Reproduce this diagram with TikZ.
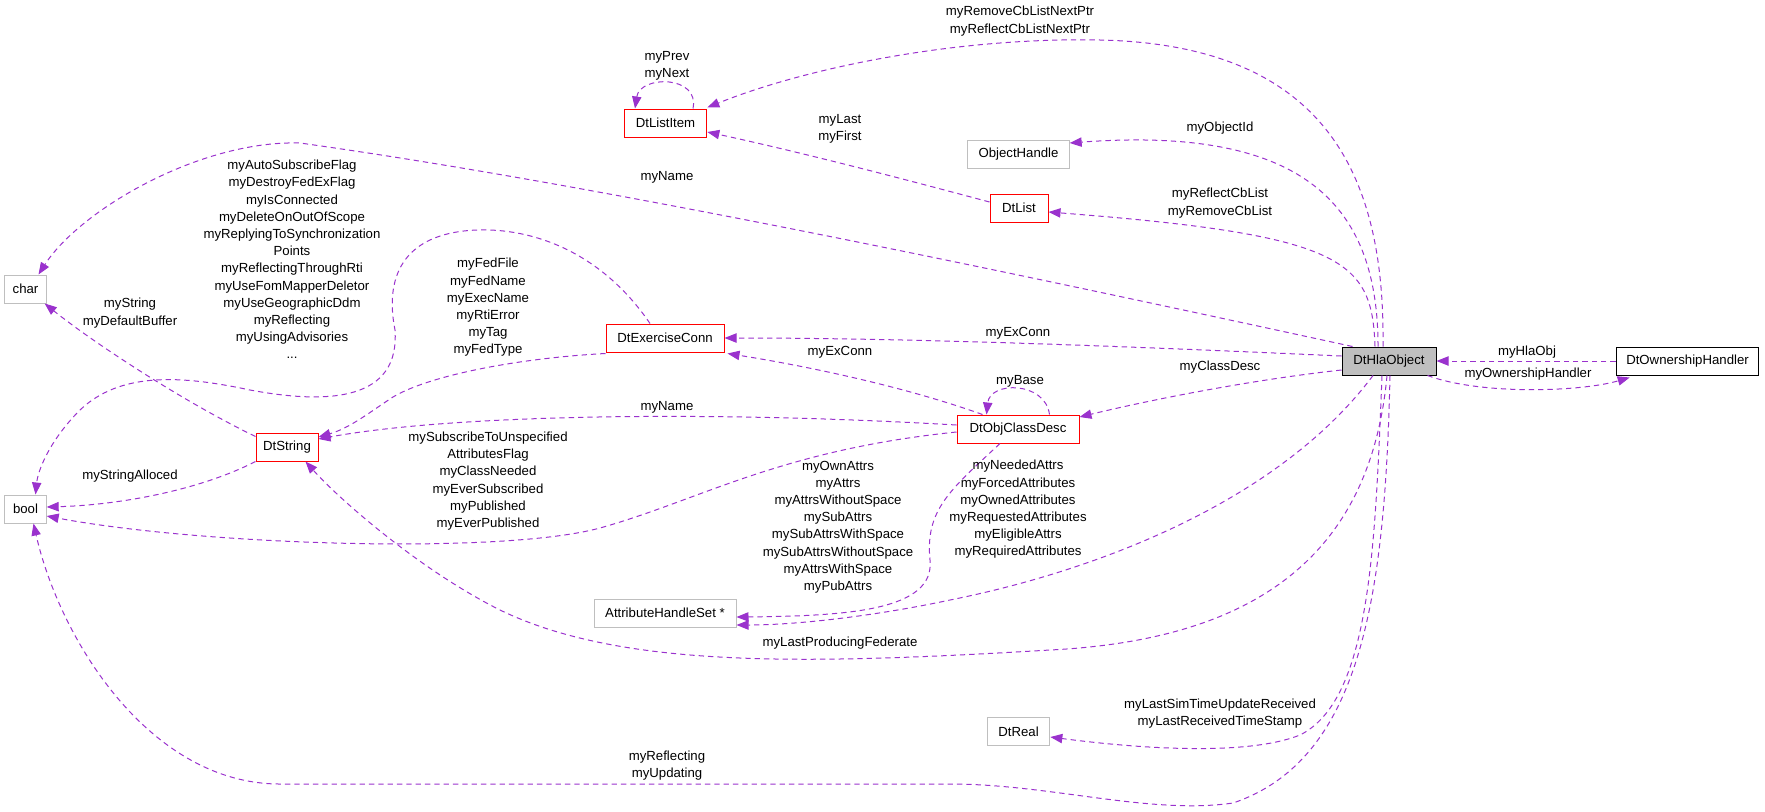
\documentclass[tikz,border=0pt]{standalone}
\usepackage{fontspec}
\setmainfont{Liberation Sans}
\usetikzlibrary{arrows.meta,calc}
\definecolor{edgec}{HTML}{9A32CD}
\definecolor{grayb}{HTML}{BFBFBF}
\begin{document}
\begin{tikzpicture}[x=0.75pt,y=-0.75pt,
  every node/.style={font=\fontsize{9.9}{12.9}\selectfont},
  box/.style={draw,line width=0.75pt,minimum height=21pt,inner sep=0pt,anchor=center},
  red/.style={box,draw=red},
  grey/.style={box,draw=grayb},
  lbl/.style={align=center,inner sep=0pt},
  edge/.style={draw=edgec,line width=0.75pt,dash pattern=on 4pt off 3pt,-{Triangle[length=9pt,width=7pt,fill=edgec]}}]
\useasboundingbox (0,0) rectangle (1765,811);
% nodes
\node[box,fill=grayb,minimum width=70.5pt] (hla) at (1389,361) {DtHlaObject};
\node[box,minimum width=107pt] (own) at (1687.5,361) {DtOwnershipHandler};
\node[red,minimum width=62pt] (li) at (665.5,123) {DtListItem};
\node[grey,minimum width=76pt] (oh) at (1018.5,154) {ObjectHandle};
\node[red,minimum width=43.5pt] (list) at (1019,208) {DtList};
\node[grey,minimum width=31pt] (char) at (25.5,289) {char};
\node[grey,minimum width=31pt] (bool) at (25.5,509) {bool};
\node[red,minimum width=46.5pt] (str) at (287,447) {DtString};
\node[red,minimum width=88.5pt] (ex) at (665,338) {DtExerciseConn};
\node[red,minimum width=91.5pt] (ocd) at (1018,429) {DtObjClassDesc};
\node[grey,minimum width=106.5pt] (ahs) at (665,613) {AttributeHandleSet *};
\node[grey,minimum width=47pt] (real) at (1018.5,731.5) {DtReal};
% edges
\draw[edge] ($(hla.north)+(-6,0)$) .. controls (1385,180) and (1330,45) .. (1100,40) .. controls (950,37) and (800,70) .. ($(li.north east)+(0,-1)$);
\draw[edge] ($(li.north)+(27.5,0)$) .. controls (700,75) and (640,75) .. ($(li.north)+(-30.5,0)$);
\draw[edge] ($(list.west)+(0,-6)$) .. controls (900,178) and (800,152) .. ($(li.east)+(0,9)$);
\draw[edge] ($(hla.north)+(-11,0)$) .. controls (1378,210) and (1310,125) .. ($(oh.east)+(0,-11)$);
\draw[edge] ($(hla.north)+(-14,0)$) .. controls (1372,260) and (1345,235) .. ($(list.east)+(0,4)$);
\draw[edge] ($(hla.north west)+(11,0)$) .. controls (1000,270) and (600,185) .. (300,143) .. controls (200,140) and (80,210) .. ($(char.north)+(13,0)$);
\draw[edge] ($(hla.west)+(0,-5)$) .. controls (1100,345) and (900,338) .. (ex.east);
\draw[edge] ($(hla.west)+(0,9)$) .. controls (1250,380) and (1150,400) .. ($(ocd.east)+(0,-12)$);
\draw[edge] ($(hla.south)+(-16,0)$) .. controls (1280,500) and (1100,570) .. (950,600) .. controls (880,615) and (800,625) .. ($(ahs.east)+(0,12)$);
\draw[edge] ($(hla.south)+(-2,0)$) .. controls (1370,560) and (1250,640) .. (1050,650) .. controls (800,665) and (620,668) .. (500,610) .. controls (420,570) and (340,500) .. ($(str.south east)+(-13,0)$);
\draw[edge] ($(hla.south)+(-7,0)$) .. controls (1375,550) and (1370,700) .. (1300,735) .. controls (1250,755) and (1150,750) .. ($(real.east)+(0,5.5)$);
\draw[edge] ($(hla.south)+(1,0)$) .. controls (1385,600) and (1360,760) .. (1233,803) .. controls (1150,815) and (1050,784) .. (950,784) -- (280,784) .. controls (150,784) and (60,640) .. ($(bool.south)+(8,0)$);
\draw[edge] ($(hla.south east)+(-9,0)$) .. controls (1480,395) and (1580,392) .. ($(own.south west)+(14,2)$);
\draw[edge] (own.west) -- (hla.east);
\draw[edge] ($(ocd.north west)+(93,0)$) .. controls (1045,381) and (990,381) .. ($(ocd.north west)+(30,0)$);
\draw[edge] ($(ocd.north west)+(26,0)$) .. controls (900,385) and (800,365) .. ($(ex.south east)+(3,1)$);
\draw[edge] ($(ocd.west)+(0,-4)$) .. controls (700,410) and (450,415) .. ($(str.east)+(0,-8)$);
\draw[edge] ($(ocd.west)+(0,3)$) .. controls (780,450) and (700,500) .. (600,528) .. controls (500,555) and (200,545) .. ($(bool.east)+(0,7)$);
\draw[edge] ($(ocd.south)+(-18,0)$) .. controls (950,490) and (925,510) .. (930,560) .. controls (935,610) and (850,616) .. ($(ahs.east)+(0,4)$);
\draw[edge] ($(ex.south west)+(0,1)$) .. controls (520,358) and (430,375) .. (393,397) .. controls (370,412) and (350,428) .. ($(str.east)+(0,-10)$);
\draw[edge] ($(ex.north)+(-15,0)$) .. controls (600,250) and (530,228) .. (477,230) .. controls (400,233) and (385,280) .. (395,330) .. controls (400,400) and (330,405) .. (250,390) .. controls (180,375) and (120,372) .. (80,410) .. controls (50,440) and (38,470) .. ($(bool.north)+(10,0)$);
\draw[edge] ($(str.north west)+(0,4)$) .. controls (180,400) and (90,340) .. ($(char.south east)+(-2,0)$);
\draw[edge] ($(str.south west)+(0,0)$) .. controls (200,490) and (120,505) .. ($(bool.east)+(0,-2)$);
% labels
\node[lbl] (l1) at (1020,21) {myRemoveCbListNextPtr\\myReflectCbListNextPtr};
\node[lbl] (l2) at (667,65.5) {myPrev\\myNext};
\node[lbl] (l3) at (840,128.5) {myLast\\myFirst};
\node[lbl] (l4) at (1220,128) {myObjectId};
\node[lbl] (l5) at (667,177) {myName};
\node[lbl] (l6) at (1220,203) {myReflectCbList\\myRemoveCbList};
\node[lbl] (l7) at (292,259.5) {myAutoSubscribeFlag\\myDestroyFedExFlag\\myIsConnected\\myDeleteOnOutOfScope\\myReplyingToSynchronization\\Points\\myReflectingThroughRti\\myUseFomMapperDeletor\\myUseGeographicDdm\\myReflecting\\myUsingAdvisories\\...};
\node[lbl] (l8) at (488,307.5) {myFedFile\\myFedName\\myExecName\\myRtiError\\myTag\\myFedType};
\node[lbl] (l9) at (130,313) {myString\\myDefaultBuffer};
\node[lbl] (l10) at (1018,333) {myExConn};
\node[lbl] (l11) at (840,352) {myExConn};
\node[lbl] (l12) at (1220,367) {myClassDesc};
\node[lbl] (l13) at (1020,381) {myBase};
\node[lbl] (l14) at (1527,352) {myHlaObj};
\node[lbl] (l15) at (1528,374) {myOwnershipHandler};
\node[lbl] (l16) at (667,407) {myName};
\node[lbl] (l17) at (130,476) {myStringAlloced};
\node[lbl] (l18) at (488,481) {mySubscribeToUnspecified\\AttributesFlag\\myClassNeeded\\myEverSubscribed\\myPublished\\myEverPublished};
\node[lbl] (l19) at (838,527) {myOwnAttrs\\myAttrs\\myAttrsWithoutSpace\\mySubAttrs\\mySubAttrsWithSpace\\mySubAttrsWithoutSpace\\myAttrsWithSpace\\myPubAttrs};
\node[lbl] (l20) at (1018,509.5) {myNeededAttrs\\myForcedAttributes\\myOwnedAttributes\\myRequestedAttributes\\myEligibleAttrs\\myRequiredAttributes};
\node[lbl] (l21) at (840,643) {myLastProducingFederate};
\node[lbl] (l22) at (1220,713.5) {myLastSimTimeUpdateReceived\\myLastReceivedTimeStamp};
\node[lbl] (l23) at (667,765.5) {myReflecting\\myUpdating};
\end{tikzpicture}
\end{document}
